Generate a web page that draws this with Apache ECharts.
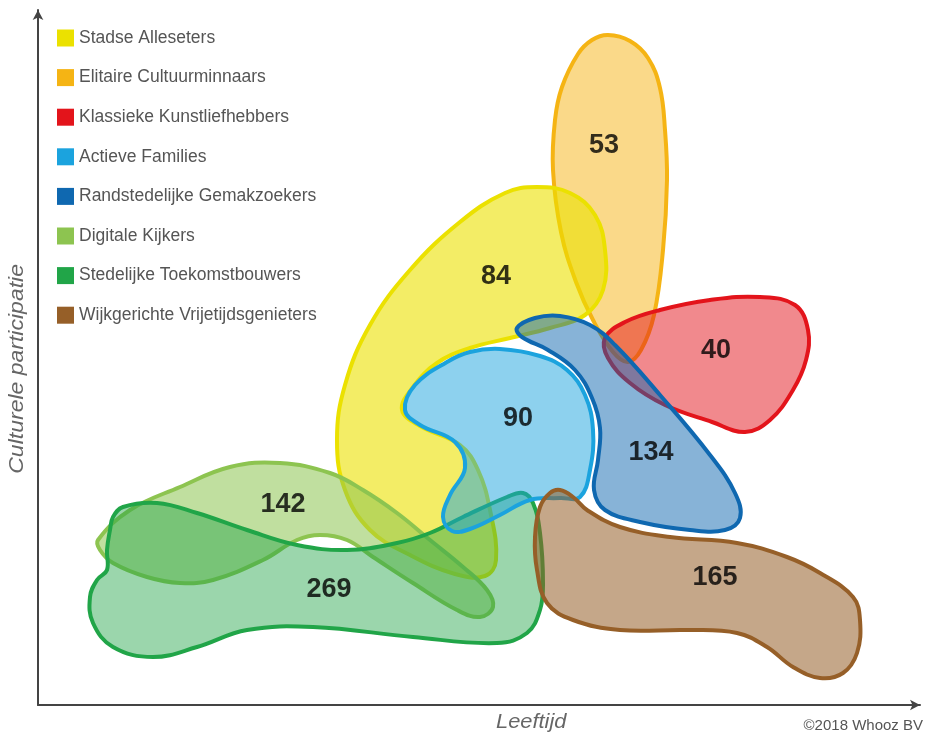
<!DOCTYPE html>
<html>
<head>
<meta charset="utf-8">
<script src="https://cdn.jsdelivr.net/npm/echarts@6/dist/echarts.min.js"></script>
<style>html,body{margin:0;padding:0;background:#fff;}#chart{width:925px;height:736px;}</style>
</head>
<body>
<div id="chart"></div>
<script>
// Legend order
var legendNames = ['Stadse Alleseters','Elitaire Cultuurminnaars','Klassieke Kunstliefhebbers','Actieve Families','Randstedelijke Gemakzoekers','Digitale Kijkers','Stedelijke Toekomstbouwers','Wijkgerichte Vrijetijdsgenieters'];
var legendColors = ['#EBE100','#F5B414','#E3141B','#1BA3DE','#0F68B0','#8DC450','#21A548','#965F28'];

// Segment sizes and label positions (x = age, y = cultural participation)
var counts = [84, 53, 40, 90, 134, 142, 269, 165];
var labelX = [45.8, 56.6, 67.8, 48.0, 61.3, 24.5, 29.1, 67.7];
var labelY = [42.8, 55.9, 35.4, 28.6, 25.2, 20.0, 11.5, 12.7];

// Outline of each segment cloud (x, y)
var stadseOutline = [[49.9,51.8],[53.2,51.2],[55.7,49.0],[56.7,45.5],[56.5,41.5],[54.7,39.0],[51.2,37.7],[47.2,36.7],[43.2,35.7],[39.9,34.2],[37.5,31.8],[36.4,29.5],[38.2,27.9],[42.2,26.0],[44.0,23.5],[45.2,19.5],[45.8,14.5],[44.7,12.9],[41.7,13.1],[37.2,15.0],[33.2,17.5],[30.7,21.5],[29.9,26.5],[30.7,32.0],[33.2,38.0],[37.2,43.5],[42.2,48.3],[46.7,51.2]];
var elitaireOutline = [[57.0,67.0],[59.2,66.4],[61.0,64.7],[62.2,61.7],[62.7,57.5],[62.9,52.5],[62.5,45.5],[61.6,39.0],[60.3,35.5],[59.0,34.3],[57.5,35.3],[55.5,38.5],[53.8,42.3],[52.3,47.3],[51.5,53.5],[51.7,58.5],[52.4,61.8],[54.0,65.1],[55.4,66.5]];
var klassiekeOutline = [[56.7,36.7],[58.7,38.3],[62.2,39.5],[67.2,40.5],[72.2,40.8],[75.7,40.0],[77.0,37.5],[76.8,34.5],[75.5,31.5],[73.2,28.5],[70.7,27.3],[67.4,28.3],[62.7,30.0],[59.2,32.2],[57.0,34.7]];
var actieveOutline = [[46.2,35.6],[50.2,34.9],[52.9,33.5],[54.7,31.0],[55.5,27.5],[55.2,23.5],[54.2,20.8],[52.2,20.7],[49.2,20.5],[46.2,19.0],[43.2,17.6],[41.4,17.4],[40.5,18.8],[41.2,21.0],[42.7,23.7],[41.7,26.3],[38.2,28.0],[36.7,29.5],[37.7,32.0],[40.9,34.3],[43.2,35.3]];
var randstedOutline = [[47.9,37.7],[49.7,38.7],[52.2,38.9],[55.2,38.0],[57.7,36.0],[62.2,31.0],[67.2,25.0],[69.7,21.2],[70.2,18.7],[68.7,17.5],[65.2,17.5],[60.2,18.3],[56.7,19.5],[55.6,21.5],[56.0,24.5],[56.2,27.7],[55.4,30.7],[53.7,33.5],[51.0,35.5],[48.4,36.8]];
var digitaleOutline = [[6.0,16.5],[9.2,19.5],[14.2,21.8],[19.2,23.8],[24.2,24.2],[29.2,23.2],[32.5,21.5],[35.9,19.2],[39.2,16.5],[42.5,13.8],[44.9,11.5],[45.5,9.8],[44.2,8.8],[41.9,9.5],[37.5,12.2],[33.5,14.8],[30.9,16.5],[28.2,17.0],[25.9,16.5],[22.5,14.5],[17.5,12.5],[14.2,12.2],[10.9,12.8],[7.5,14.2],[6.2,15.5]];
var stedelijkeOutline = [[7.5,18.8],[8.5,19.8],[11.9,20.2],[15.9,19.2],[20.9,17.5],[25.9,16.0],[30.9,15.5],[35.9,16.2],[39.2,17.2],[42.5,18.8],[46.9,20.8],[48.5,21.2],[49.5,20.2],[50.2,17.2],[50.5,12.2],[50.2,9.5],[48.9,7.2],[45.9,6.2],[37.5,6.8],[27.5,7.8],[20.9,7.5],[15.9,5.8],[11.5,4.8],[7.5,5.8],[5.5,8.2],[5.2,10.8],[5.9,12.5],[6.9,13.5],[6.9,15.5],[7.2,17.5]];
var wijkOutline = [[52.2,21.5],[53.5,20.8],[54.9,19.5],[58.2,17.8],[63.2,16.8],[69.9,16.2],[74.9,14.8],[78.2,13.2],[81.5,10.8],[82.2,8.5],[81.9,5.2],[80.5,3.2],[78.2,2.7],[75.5,3.8],[72.9,5.8],[69.9,7.2],[64.9,7.5],[58.2,7.5],[53.5,8.5],[50.9,10.2],[49.9,13.5],[49.7,16.8],[50.2,19.8],[51.2,21.2]];

var outlines = [stadseOutline, elitaireOutline, klassiekeOutline, actieveOutline, randstedOutline, digitaleOutline, stedelijkeOutline, wijkOutline];
var fillAlpha = [0.6, 0.5, 0.5, 0.5, 0.5, 0.55, 0.45, 0.55];
// drawing order (index into legend arrays)
var drawOrder = [1, 0, 5, 6, 3, 2, 4, 7];

function hexToRgba(hex, a) {
  var r = parseInt(hex.slice(1,3),16), g = parseInt(hex.slice(3,5),16), b = parseInt(hex.slice(5,7),16);
  return 'rgba(' + r + ',' + g + ',' + b + ',' + a + ')';
}

var FONT = 'Arial, "Liberation Sans", sans-serif';

var series = drawOrder.map(function (i) {
  var pts = outlines[i];
  return {
    type: 'custom',
    name: legendNames[i],
    coordinateSystem: 'cartesian2d',
    silent: true,
    itemStyle: { color: legendColors[i] },
    data: [[labelX[i], labelY[i]]],
    renderItem: function (params, api) {
      var p = pts.map(function (d) { return api.coord(d); });
      return {
        type: 'polygon',
        shape: { points: p, smooth: 0.4 },
        style: { fill: hexToRgba(legendColors[i], fillAlpha[i]), stroke: legendColors[i], lineWidth: 4, lineJoin: 'round' }
      };
    }
  };
});

series.push({
  type: 'scatter',
  name: 'labels',
  symbolSize: 0,
  silent: true,
  z: 10,
  data: counts.map(function (c, i) { return [labelX[i], labelY[i], c]; }),
  label: {
    show: true, position: 'inside',
    formatter: function (p) { return p.value[2]; },
    color: '#000', fontSize: 27, fontWeight: 'bold', fontFamily: FONT
  }
});

var chart = echarts.init(document.getElementById('chart'), null, { renderer: 'canvas' });
chart.setOption({
  animation: false,
  backgroundColor: '#fff',
  grid: { left: 38, top: 10, right: 5, bottom: 31 },
  xAxis: {
    type: 'value', min: 0, max: 88.2,
    axisLine: { show: true, lineStyle: { color: '#444', width: 2 }, symbol: ['none', 'arrow'], symbolSize: [8, 10] },
    axisTick: { show: false }, axisLabel: { show: false }, splitLine: { show: false }
  },
  yAxis: {
    type: 'value', min: 0, max: 69.5,
    axisLine: { show: true, lineStyle: { color: '#444', width: 2 }, symbol: ['none', 'arrow'], symbolSize: [8, 10] },
    axisTick: { show: false }, axisLabel: { show: false }, splitLine: { show: false }
  },
  legend: {
    orient: 'vertical', left: 57, top: 29, padding: 0,
    itemWidth: 17, itemHeight: 17, itemGap: 21.6, icon: 'rect',
    data: legendNames.map(function (n, i) { return { name: n, itemStyle: { color: legendColors[i] } }; }),
    textStyle: { color: '#555', fontSize: 17.5, fontFamily: FONT },
    selectedMode: false
  },
  graphic: [
    { type: 'text', left: 8, top: 264, rotation: Math.PI / 2, scaleX: 1.18, style: { text: 'Culturele participatie', font: 'italic 19.5px ' + FONT, fill: '#666' } },
    { type: 'text', left: 496, top: 713, scaleX: 1.12, style: { text: 'Leeftijd', font: 'italic 19.5px ' + FONT, fill: '#666' } },
    { type: 'text', right: 2, top: 718, style: { text: '©2018 Whooz BV', font: '15px ' + FONT, fill: '#555' } }
  ],
  series: series
});
</script>
</body>
</html>
